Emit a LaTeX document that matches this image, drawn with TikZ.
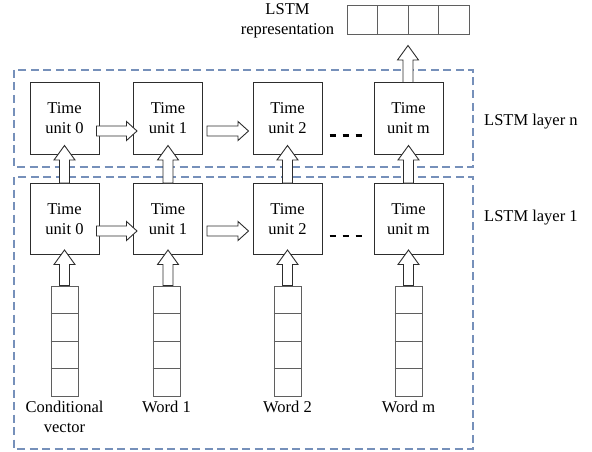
\documentclass[tikz,border=0pt]{standalone}
\usepackage{fontspec}
\setmainfont{Liberation Serif}
\usetikzlibrary{calc}
\definecolor{frameblue}{RGB}{118,144,186}
\definecolor{boxline}{RGB}{45,45,45}
\definecolor{vecline}{RGB}{95,95,95}
\tikzset{
  frame/.style={draw=frameblue,line width=1.3pt,dash pattern=on 8pt off 4.5pt},
  unitbox/.style={draw=boxline,line width=1pt,minimum width=69pt,minimum height=71pt,inner sep=0pt,align=center,font=\fontsize{16.5}{20}\selectfont},
  vecbox/.style={draw=vecline,line width=1pt,minimum width=27pt,minimum height=110pt,inner sep=0pt},
  repbox/.style={draw=vecline,line width=1pt,minimum width=122pt,minimum height=29pt,inner sep=0pt},
  lbl/.style={align=center,font=\fontsize{16.5}{20}\selectfont,inner sep=0pt},
  blk/.style={draw=boxline,fill=white,line width=0.9pt,line join=miter},
  dots/.style={draw=black,line width=2.6pt,dash pattern=on 6.5pt off 6.5pt},
}
\newcommand\blockup[2]{\draw[blk] let \p1=#1, \p2=#2 in
  (\x2,\y2) -- (\x2+10.5pt,\y2-14.5pt) -- (\x2+5pt,\y2-14.5pt) -- (\x2+5pt,\y1)
  -- (\x2-5pt,\y1) -- (\x2-5pt,\y2-14.5pt) -- (\x2-10.5pt,\y2-14.5pt) -- cycle;}
\newcommand\blockright[2]{\draw[blk] let \p1=#1, \p2=#2 in
  (\x2,\y2) -- (\x2-10.5pt,\y2+9.5pt) -- (\x2-10.5pt,\y2+5pt) -- (\x1,\y2+5pt)
  -- (\x1,\y2-5pt) -- (\x2-10.5pt,\y2-5pt) -- (\x2-10.5pt,\y2-9.5pt) -- cycle;}
\begin{document}
\begin{tikzpicture}[x=1pt,y=1pt]
\useasboundingbox (0,0) rectangle (592,-452);
% frames
\draw[frame] (14,-70) rectangle (473,-167);
\draw[frame] (14,-177) rectangle (473,-449);
% top layer
\node[unitbox] (t0) at (64.5,-118.5) {Time\\unit 0};
\node[unitbox] (t1) at (168,-118.5) {Time\\unit 1};
\node[unitbox] (t2) at (287.5,-118.5) {Time\\unit 2};
\node[unitbox] (tm) at (408.5,-118.5) {Time\\unit m};
% bottom layer
\node[unitbox] (b0) at (64.5,-219) {Time\\unit 0};
\node[unitbox] (b1) at (168,-219) {Time\\unit 1};
\node[unitbox] (b2) at (287.5,-219) {Time\\unit 2};
\node[unitbox] (bm) at (408.5,-219) {Time\\unit m};
% input vectors
\foreach \n/\xx in {v0/64.5,v1/166.5,v2/287.5,vm/408.5}{
  \node[vecbox] (\n) at (\xx,-341) {};
  \foreach \f in {0.25,0.5,0.75}{
    \draw[vecline,line width=1pt] ($(\n.north west)!\f!(\n.south west)$) -- ($(\n.north east)!\f!(\n.south east)$);
  }
}
\node[lbl,anchor=north] (l0) at (64.5,-401) {Conditional\\vector};
\node[lbl,anchor=north] (l1) at (166.5,-401) {Word 1};
\node[lbl,anchor=north] (l2) at (287.5,-401) {Word 2};
\node[lbl,anchor=north] (lm) at (408.5,-401) {Word m};
% representation vector
\node[repbox] (rep) at (408,-20.5) {};
\foreach \f in {0.25,0.5,0.75}{
  \draw[vecline,line width=1pt] ($(rep.north west)!\f!(rep.north east)$) -- ($(rep.south west)!\f!(rep.south east)$);
}
\node[lbl] (replbl) at (287.5,-21) {LSTM\\representation};
% layer labels
\node[lbl,anchor=west] (lyn) at (484,-122) {LSTM layer n};
\node[lbl,anchor=west] (ly1) at (484,-218) {LSTM layer 1};
% horizontal arrows
\blockright{($(t0.east)+(-3,0)$)}{($(t1.west)+(4,-12.5)$)}
\blockright{($(t1.east)+(4,0)$)}{($(t2.west)+(-4,-12.5)$)}
\blockright{($(b0.east)+(-3,0)$)}{($(b1.west)+(4,-12)$)}
\blockright{($(b1.east)+(4,0)$)}{($(b2.west)+(-4,-12)$)}
% dots
\draw[dots] ($(t2.east)+(7,-17)$) -- ($(tm.west)+(-11,-17)$);
\draw[dots] ($(b2.east)+(7,-17)$) -- ($(bm.west)+(-11,-17)$);
% vertical arrows between layers
\blockup{(b0.north)}{($(t0.south)+(0,9)$)}
\blockup{(b1.north)}{($(t1.south)+(0,9)$)}
\blockup{(b2.north)}{($(t2.south)+(0,9)$)}
\blockup{(bm.north)}{($(tm.south)+(0,9)$)}
% input arrows
\blockup{(v0.north)}{($(b0.south)+(0,5)$)}
\blockup{($(v1.north)+(1.5,0)$)}{($(b1.south)+(0,5)$)}
\blockup{(v2.north)}{($(b2.south)+(0,5)$)}
\blockup{(vm.north)}{($(bm.south)+(0,5)$)}
% output arrow
\blockup{(tm.north)}{($(rep.south)+(0,-10)$)}
\end{tikzpicture}
\end{document}
